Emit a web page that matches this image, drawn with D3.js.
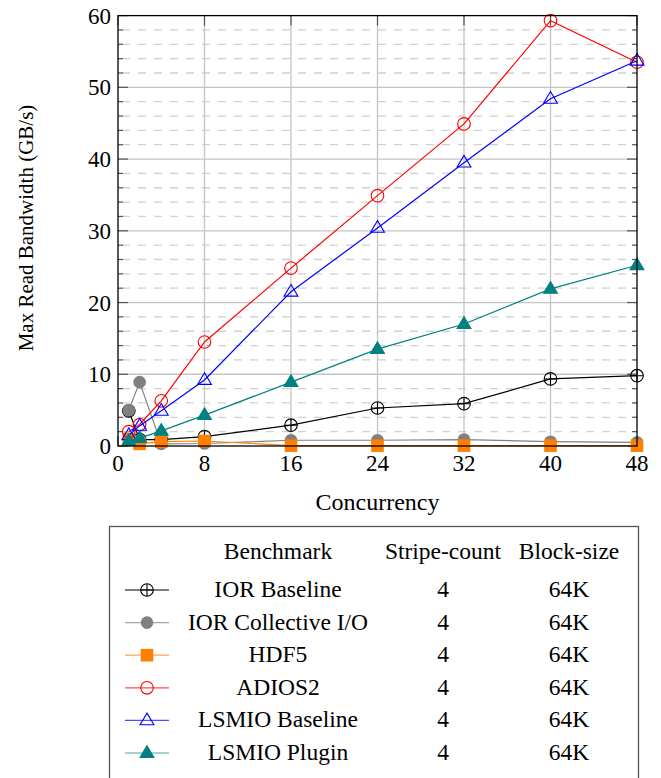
<!DOCTYPE html>
<html>
<head>
<meta charset="utf-8">
<script src="https://cdn.jsdelivr.net/npm/d3@7"></script>
<style>
  body { margin: 0; background: #fff; }
  svg text { font-family: "Liberation Serif", serif; fill: #000; }
</style>
</head>
<body>
<div id="chart"></div>
<script>
// concurrency levels on the x axis
var concurrency = [1, 2, 4, 8, 16, 24, 32, 40, 48];
var xTicks = [0, 8, 16, 24, 32, 40, 48];
var yTicks = [0, 10, 20, 30, 40, 50, 60];

// read bandwidth (GB/s) for each benchmark
var iorBaseline = [4.9, 0.9, 0.9, 1.3, 2.9, 5.3, 5.9, 9.35, 9.8];
var iorCollective = [5.0, 8.9, 0.3, 0.35, 0.8, 0.8, 0.9, 0.6, 0.5];
var hdf5 = [1.0, 0.3, 0.6, 0.7, 0.05, 0.05, 0.05, 0.05, 0.05];
var adios2 = [2.0, 3.0, 6.3, 14.5, 24.8, 34.9, 44.9, 59.3, 53.5];
var lsmioBaseline = [1.5, 2.8, 4.9, 9.2, 21.5, 30.4, 39.5, 48.4, 53.7];
var lsmioPlugin = [0.7, 1.1, 2.1, 4.3, 8.9, 13.5, 17.0, 21.9, 25.2];

var names = ["IOR Baseline", "IOR Collective I/O", "HDF5", "ADIOS2", "LSMIO Baseline", "LSMIO Plugin"];
var stripeCount = ["4", "4", "4", "4", "4", "4"];
var blockSize = ["64K", "64K", "64K", "64K", "64K", "64K"];

var series = [
  { name: names[0], values: iorBaseline, color: "#000000", marker: "oplus" },
  { name: names[1], values: iorCollective, color: "#808080", marker: "dot" },
  { name: names[2], values: hdf5, color: "#ff8000", marker: "square" },
  { name: names[3], values: adios2, color: "#ff0000", marker: "circle" },
  { name: names[4], values: lsmioBaseline, color: "#0000ff", marker: "triangle" },
  { name: names[5], values: lsmioPlugin, color: "#008080", marker: "triangleFill" }
];

function drawMarker(g, type, color, cx, cy) {
  if (type == "oplus") {
    g.append("circle").attr("cx", cx).attr("cy", cy).attr("r", 6.3)
      .attr("fill", "none").attr("stroke", color).attr("stroke-width", 1.1);
    g.append("path").attr("d", "M" + (cx - 6.3) + "," + cy + "H" + (cx + 6.3) + "M" + cx + "," + (cy - 6.3) + "V" + (cy + 6.3))
      .attr("stroke", color).attr("stroke-width", 1.1);
  } else if (type == "dot") {
    g.append("circle").attr("cx", cx).attr("cy", cy).attr("r", 6.3).attr("fill", color);
  } else if (type == "square") {
    g.append("rect").attr("x", cx - 6.3).attr("y", cy - 6.3).attr("width", 12.6).attr("height", 12.6).attr("fill", color);
  } else if (type == "circle") {
    g.append("circle").attr("cx", cx).attr("cy", cy).attr("r", 6.3)
      .attr("fill", "none").attr("stroke", color).attr("stroke-width", 1.1);
  } else {
    var s = 7.3;
    var p = "M" + cx + "," + (cy - s) + "L" + (cx + s * 0.95) + "," + (cy + s * 0.6) + "L" + (cx - s * 0.95) + "," + (cy + s * 0.6) + "Z";
    g.append("path").attr("d", p)
      .attr("fill", type == "triangleFill" ? color : "none")
      .attr("stroke", color).attr("stroke-width", 1.1);
  }
}

function draw() {
  var W = 661, H = 778;
  var mLeft = 118, mRight = 637, mTop = 15.6, mBottom = 446;

  var svg = d3.select("#chart").append("svg")
    .attr("width", W).attr("height", H);

  var x = d3.scaleLinear().domain([0, 48]).range([mLeft, mRight]);
  var y = d3.scaleLinear().domain([0, 60]).range([mBottom, mTop]);

  // grid
  var grid = svg.append("g");
  grid.selectAll(".minor")
    .data(d3.range(0, 61, 2).filter(function (d) { return d % 10 != 0; }))
    .enter().append("line")
    .attr("x1", mLeft).attr("x2", mRight)
    .attr("y1", function (d) { return y(d); }).attr("y2", function (d) { return y(d); })
    .attr("stroke", "#d0d0d0").attr("stroke-width", 1.3)
    .attr("stroke-dasharray", "8,8").attr("stroke-dashoffset", -4);
  grid.selectAll(".majorY")
    .data(yTicks.slice(1, -1))
    .enter().append("line")
    .attr("x1", mLeft).attr("x2", mRight)
    .attr("y1", function (d) { return y(d); }).attr("y2", function (d) { return y(d); })
    .attr("stroke", "#c4c4c4").attr("stroke-width", 1.3);
  grid.selectAll(".majorX")
    .data(xTicks.slice(1, -1))
    .enter().append("line")
    .attr("y1", mTop).attr("y2", mBottom)
    .attr("x1", function (d) { return x(d); }).attr("x2", function (d) { return x(d); })
    .attr("stroke", "#c4c4c4").attr("stroke-width", 1.3);

  // tick marks (inward, both sides)
  var ticks = svg.append("g").attr("stroke", "#555").attr("stroke-width", 1.2);
  d3.range(0, 61, 2).forEach(function (d) {
    var len = d % 10 == 0 ? 10 : 5;
    ticks.append("line").attr("x1", mLeft).attr("x2", mLeft + len).attr("y1", y(d)).attr("y2", y(d));
    ticks.append("line").attr("x1", mRight).attr("x2", mRight - len).attr("y1", y(d)).attr("y2", y(d));
  });
  xTicks.forEach(function (d) {
    ticks.append("line").attr("x1", x(d)).attr("x2", x(d)).attr("y1", mTop).attr("y2", mTop + 10);
    ticks.append("line").attr("x1", x(d)).attr("x2", x(d)).attr("y1", mBottom).attr("y2", mBottom - 10);
  });

  // lines and markers
  var line = d3.line()
    .x(function (d, i) { return x(concurrency[i]); })
    .y(function (d) { return y(d); });

  var plot = svg.append("g");
  series.forEach(function (s) {
    var g = plot.append("g");
    g.append("path").attr("d", line(s.values))
      .attr("fill", "none").attr("stroke", s.color).attr("stroke-width", 1.2);
    s.values.forEach(function (v, i) {
      drawMarker(g, s.marker, s.color, x(concurrency[i]), y(v));
    });
  });

  // frame
  svg.append("rect").attr("x", mLeft).attr("y", mTop)
    .attr("width", mRight - mLeft).attr("height", mBottom - mTop)
    .attr("fill", "none").attr("stroke", "#000").attr("stroke-width", 1.3);

  // tick labels
  svg.append("g").selectAll("text").data(xTicks).enter().append("text")
    .attr("x", function (d) { return x(d); }).attr("y", mBottom + 25)
    .attr("text-anchor", "middle").attr("font-size", 23)
    .text(function (d) { return d; });
  svg.append("g").selectAll("text").data(yTicks).enter().append("text")
    .attr("x", mLeft - 7).attr("y", function (d) { return y(d) + 8; })
    .attr("text-anchor", "end").attr("font-size", 23)
    .text(function (d) { return d; });

  // axis titles
  svg.append("text").attr("x", (mLeft + mRight) / 2).attr("y", 510)
    .attr("text-anchor", "middle").attr("font-size", 24).text("Concurrency");
  svg.append("text")
    .attr("transform", "translate(33,228) rotate(-90)")
    .attr("text-anchor", "middle").attr("font-size", 21)
    .text("Max Read Bandwidth (GB/s)");

  // legend table
  var leg = svg.append("g");
  leg.append("rect").attr("x", 109.5).attr("y", 526.5).attr("width", 529).attr("height", 300)
    .attr("fill", "none").attr("stroke", "#555").attr("stroke-width", 1.3);
  var colBench = 278, colStripe = 443, colBlock = 569, colMark = 147;
  var headY = 559, rowY0 = 597, rowStep = 32.6;
  leg.append("text").attr("x", colBench).attr("y", headY).attr("text-anchor", "middle").attr("font-size", 23.5).text("Benchmark");
  leg.append("text").attr("x", colStripe).attr("y", headY).attr("text-anchor", "middle").attr("font-size", 23.5).text("Stripe-count");
  leg.append("text").attr("x", colBlock).attr("y", headY).attr("text-anchor", "middle").attr("font-size", 23.5).text("Block-size");
  series.forEach(function (s, i) {
    var ry = rowY0 + i * rowStep;
    var g = leg.append("g");
    g.append("line").attr("x1", colMark - 22).attr("x2", colMark + 22)
      .attr("y1", ry - 7).attr("y2", ry - 7).attr("stroke", s.color).attr("stroke-width", 1.2)
      .attr("opacity", i == 0 ? 1 : 0.7);
    drawMarker(g, s.marker, s.color, colMark, ry - 7);
    g.append("text").attr("x", colBench).attr("y", ry).attr("text-anchor", "middle").attr("font-size", 23.5).text(names[i]);
    g.append("text").attr("x", colStripe).attr("y", ry).attr("text-anchor", "middle").attr("font-size", 23.5).text(stripeCount[i]);
    g.append("text").attr("x", colBlock).attr("y", ry).attr("text-anchor", "middle").attr("font-size", 23.5).text(blockSize[i]);
  });
}

draw();
</script>
</body>
</html>
